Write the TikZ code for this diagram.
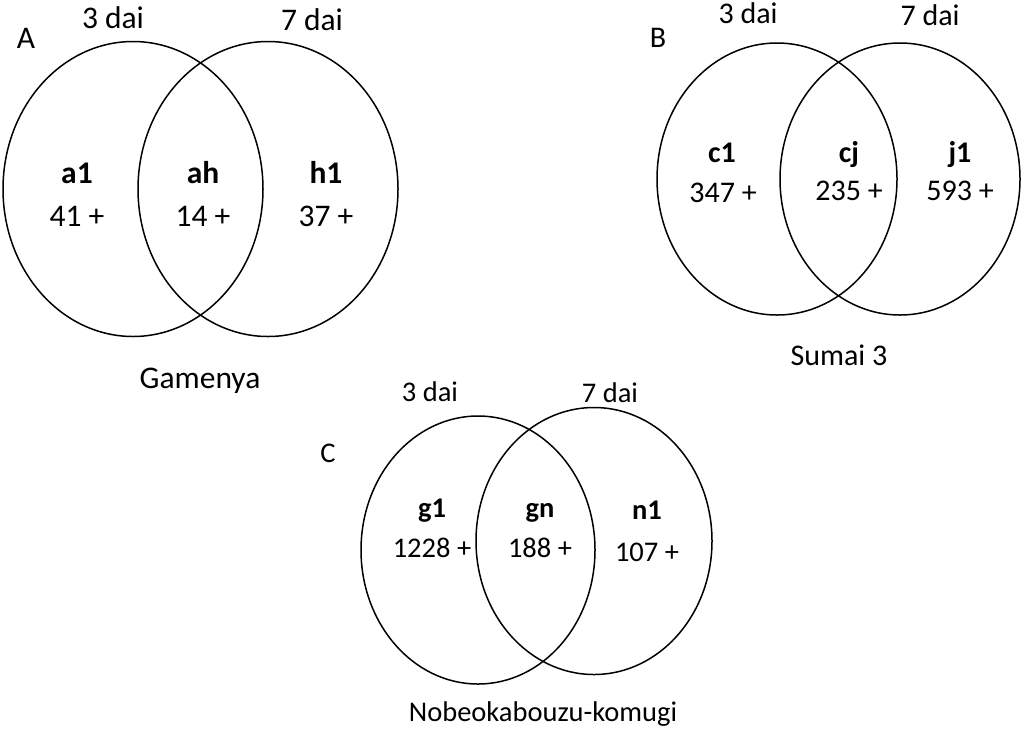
\documentclass[tikz,border=0pt]{standalone}
\usepackage{fontspec}
\setmainfont{Carlito}
\usepackage{tikz}
\usetikzlibrary{shapes.geometric}
\tikzstyle{conjunto} = [draw=black, line width=1.5pt, ellipse, inner sep=0pt]
\tikzstyle{texto} = [anchor=base, inner sep=0pt]
\tikzstyle{nombre} = [texto, execute at begin node=\bfseries]

\begin{document}
\begin{tikzpicture}[x=1pt, y=-1pt]
	\useasboundingbox (0,0) rectangle (1024,729);
	\begin{scope}[font=\fontsize{31.5}{38}\selectfont]
	\node[conjunto, minimum width=260pt, minimum height=295pt](a3) at (133,189) {};
	\node[conjunto, minimum width=260pt, minimum height=295pt](a7) at (268,189) {};
	\node[texto](letraA) at (26,48) {A};
	\node[texto](diaA3) at (113,28) {3 dai};
	\node[texto](diaA7) at (312,30) {7 dai};
	\node[nombre](a1) at (77,183) {a1};
	\node[texto](na1) at (77,226) {41 +};
	\node[nombre](ah) at (203,183) {ah};
	\node[texto](nah) at (203,226) {14 +};
	\node[nombre](h1) at (326,183) {h1};
	\node[texto](nh1) at (326,226) {37 +};
	\node[texto](gamenya) at (200,388) {Gamenya};
	\end{scope}

	\begin{scope}[font=\fontsize{30}{36}\selectfont]
	\node[conjunto, minimum width=240pt, minimum height=272pt](b3) at (777,179) {};
	\node[conjunto, minimum width=240pt, minimum height=272pt](b7) at (900,179) {};
	\node[texto](letraB) at (658,47) {B};
	\node[texto](diaB3) at (748,23) {3 dai};
	\node[texto](diaB7) at (930,25) {7 dai};
	\node[nombre](c1) at (722,162) {c1};
	\node[texto](nc1) at (723,202) {347 +};
	\node[nombre](cj) at (849,162) {cj};
	\node[texto](ncj) at (849,200) {235 +};
	\node[nombre](j1) at (960,162) {j1};
	\node[texto](nj1) at (960,200) {593 +};
	\node[texto](sumai) at (839,365) {Sumai 3};
	\end{scope}

	\begin{scope}[font=\fontsize{28.5}{34}\selectfont]
	\node[conjunto, minimum width=234pt, minimum height=268pt](c3) at (478,550) {};
	\node[conjunto, minimum width=236pt, minimum height=267pt](c7) at (594,541) {};
	\node[texto](letraC) at (328,462) {C};
	\node[texto](diaC3) at (430,401) {3 dai};
	\node[texto](diaC7) at (610,402) {7 dai};
	\node[nombre](g1) at (432,517) {g1};
	\node[texto](ng1) at (432,557) {1228 +};
	\node[nombre](gn) at (540,517) {gn};
	\node[texto](ngn) at (540,557) {188 +};
	\node[nombre](n1) at (647,519) {n1};
	\node[texto](nn1) at (647,561) {107 +};
	\node[texto](nobeoka) at (543,721) {Nobeokabouzu-komugi};
	\end{scope}
\end{tikzpicture}
\end{document}
